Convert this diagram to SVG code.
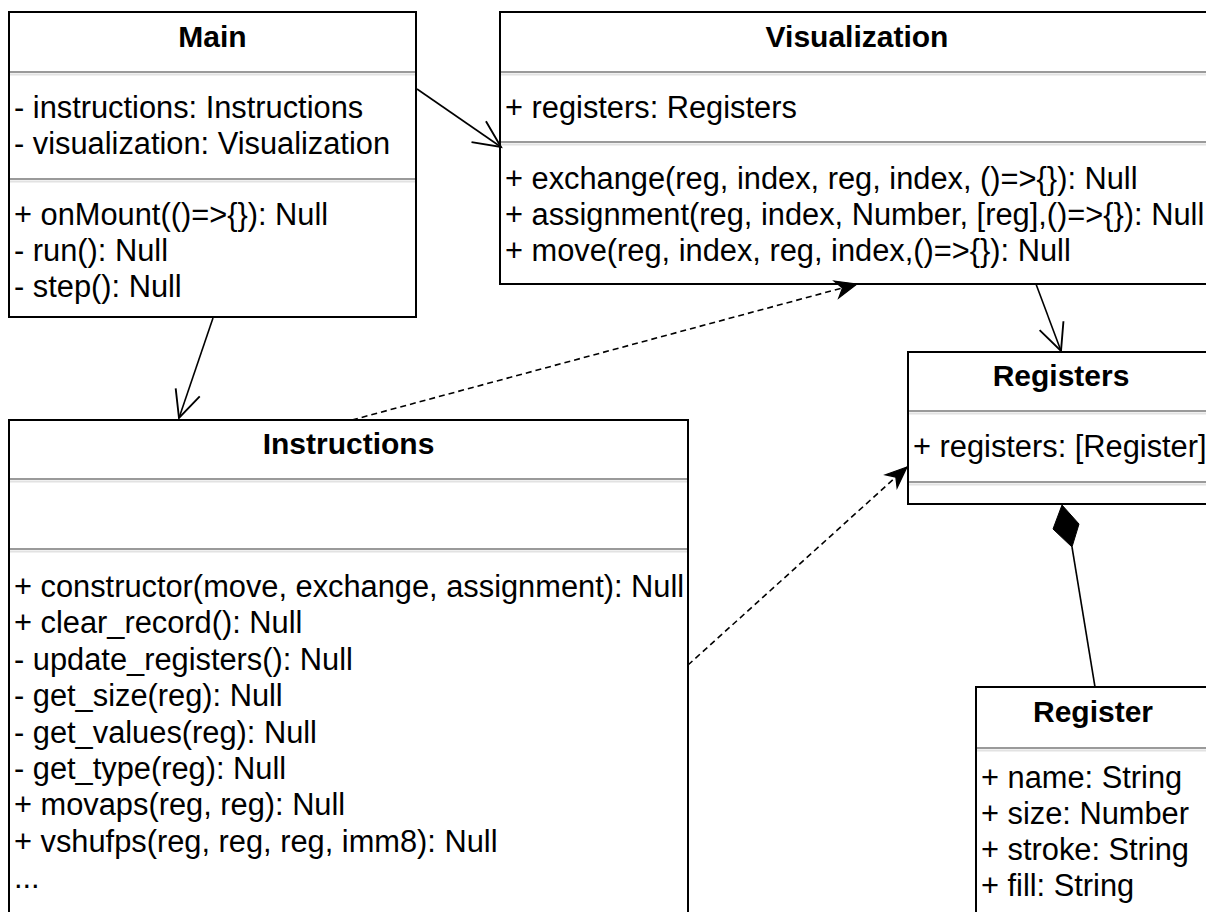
<svg xmlns="http://www.w3.org/2000/svg" width="1206" height="912" viewBox="0 0 1206 912">
  <style>
    .box { fill: #ffffff; stroke: #000000; stroke-width: 2; }
    .sep { stroke: #9a9a9a; stroke-width: 2; }
    .sep2 { stroke: #e2e2e2; stroke-width: 2; }
    .title { font-family: "Liberation Sans", Arial, Helvetica, sans-serif; font-size: 30px; font-weight: bold; fill: #000; text-anchor: middle; }
    .item { font-family: "Liberation Sans", Arial, Helvetica, sans-serif; font-size: 30.8px; fill: #000; }
    .assoc { fill: none; stroke: #000; stroke-width: 1.6; }
    .dep { fill: none; stroke: #000; stroke-width: 1.6; stroke-dasharray: 6 4; }
  </style>
  <defs>
    <marker id="open" markerUnits="userSpaceOnUse" markerWidth="40" markerHeight="40" viewBox="-30 -15 34 30" refX="0" refY="0" orient="auto">
      <path d="M -23 -10.8 L 0 0 L -23 10.8" fill="none" stroke="#000" stroke-width="1.6"/>
    </marker>
    <marker id="block" markerUnits="userSpaceOnUse" markerWidth="30" markerHeight="30" viewBox="-20 -10 24 20" refX="0" refY="0" orient="auto">
      <path d="M 0 0 L -17 -7 L -12 0 L -17 7 Z" fill="#000" stroke="#000" stroke-width="1"/>
    </marker>
  </defs>

  <rect width="1206" height="912" fill="#ffffff"/>

  <!-- Main -->
  <g id="main">
    <rect class="box" x="9" y="12" width="407" height="305"/>
    <line class="sep" x1="10" y1="72" x2="415" y2="72"/>
    <line class="sep2" x1="10" y1="74.5" x2="415" y2="74.5"/>
    <line class="sep" x1="10" y1="179" x2="415" y2="179"/>
    <line class="sep2" x1="10" y1="181.5" x2="415" y2="181.5"/>
    <text class="title" x="212.5" y="47">Main</text>
    <text class="item" x="14" y="118">- instructions: Instructions</text>
    <text class="item" x="14" y="154">- visualization: Visualization</text>
    <text class="item" x="14" y="225">+ onMount(()=&gt;{}): Null</text>
    <text class="item" x="14" y="261">- run(): Null</text>
    <text class="item" x="14" y="297">- step(): Null</text>
  </g>

  <!-- Visualization -->
  <g id="visualization">
    <rect class="box" x="500" y="12" width="714" height="272"/>
    <line class="sep" x1="501" y1="72" x2="1213" y2="72"/>
    <line class="sep2" x1="501" y1="74.5" x2="1213" y2="74.5"/>
    <line class="sep" x1="501" y1="142" x2="1213" y2="142"/>
    <line class="sep2" x1="501" y1="144.5" x2="1213" y2="144.5"/>
    <text class="title" x="857" y="47">Visualization</text>
    <text class="item" x="505" y="118">+ registers: Registers</text>
    <text class="item" x="505" y="189">+ exchange(reg, index, reg, index, ()=&gt;{}): Null</text>
    <text class="item" x="505" y="225">+ assignment(reg, index, Number, [reg],()=&gt;{}): Null</text>
    <text class="item" x="505" y="261">+ move(reg, index, reg, index,()=&gt;{}): Null</text>
  </g>

  <!-- Registers -->
  <g id="registers">
    <rect class="box" x="908" y="352" width="306" height="152"/>
    <line class="sep" x1="909" y1="411" x2="1213" y2="411"/>
    <line class="sep2" x1="909" y1="413.5" x2="1213" y2="413.5"/>
    <line class="sep" x1="909" y1="482" x2="1213" y2="482"/>
    <line class="sep2" x1="909" y1="484.5" x2="1213" y2="484.5"/>
    <text class="title" x="1061" y="386">Registers</text>
    <text class="item" x="913" y="457">+ registers: [Register]</text>
  </g>

  <!-- Instructions -->
  <g id="instructions">
    <rect class="box" x="9" y="420" width="679" height="520"/>
    <line class="sep" x1="10" y1="479" x2="687" y2="479"/>
    <line class="sep2" x1="10" y1="481.5" x2="687" y2="481.5"/>
    <line class="sep" x1="10" y1="549" x2="687" y2="549"/>
    <line class="sep2" x1="10" y1="551.5" x2="687" y2="551.5"/>
    <text class="title" x="348.5" y="454">Instructions</text>
    <text class="item" x="14" y="597">+ constructor(move, exchange, assignment): Null</text>
    <text class="item" x="14" y="633.4">+ clear_record(): Null</text>
    <text class="item" x="14" y="669.8">- update_registers(): Null</text>
    <text class="item" x="14" y="706.2">- get_size(reg): Null</text>
    <text class="item" x="14" y="742.6">- get_values(reg): Null</text>
    <text class="item" x="14" y="779">- get_type(reg): Null</text>
    <text class="item" x="14" y="815.4">+ movaps(reg, reg): Null</text>
    <text class="item" x="14" y="851.8">+ vshufps(reg, reg, reg, imm8): Null</text>
    <text class="item" x="14" y="888.2">...</text>
  </g>

  <!-- Register -->
  <g id="register">
    <rect class="box" x="976" y="687" width="238" height="260"/>
    <line class="sep" x1="977" y1="748" x2="1213" y2="748"/>
    <line class="sep2" x1="977" y1="750.5" x2="1213" y2="750.5"/>
    <text class="title" x="1093" y="722">Register</text>
    <text class="item" x="981" y="788">+ name: String</text>
    <text class="item" x="981" y="824">+ size: Number</text>
    <text class="item" x="981" y="860">+ stroke: String</text>
    <text class="item" x="981" y="896">+ fill: String</text>
  </g>

  <!-- Connectors -->
  <g id="connectors">
    <line class="assoc" x1="417" y1="89" x2="501" y2="147" marker-end="url(#open)"/>
    <line class="assoc" x1="213" y1="318" x2="179" y2="418" marker-end="url(#open)"/>
    <line class="assoc" x1="1036" y1="284" x2="1061" y2="351" marker-end="url(#open)"/>
    <line class="dep" x1="352" y1="420" x2="857" y2="284" marker-end="url(#block)"/>
    <line class="dep" x1="688" y1="665" x2="907" y2="467" marker-end="url(#block)"/>
    <line class="assoc" x1="1072" y1="547" x2="1095" y2="687"/>
    <polygon points="1062,505 1079,524 1072,547 1053,529" fill="#000" stroke="#000" stroke-width="1"/>
  </g>
</svg>
